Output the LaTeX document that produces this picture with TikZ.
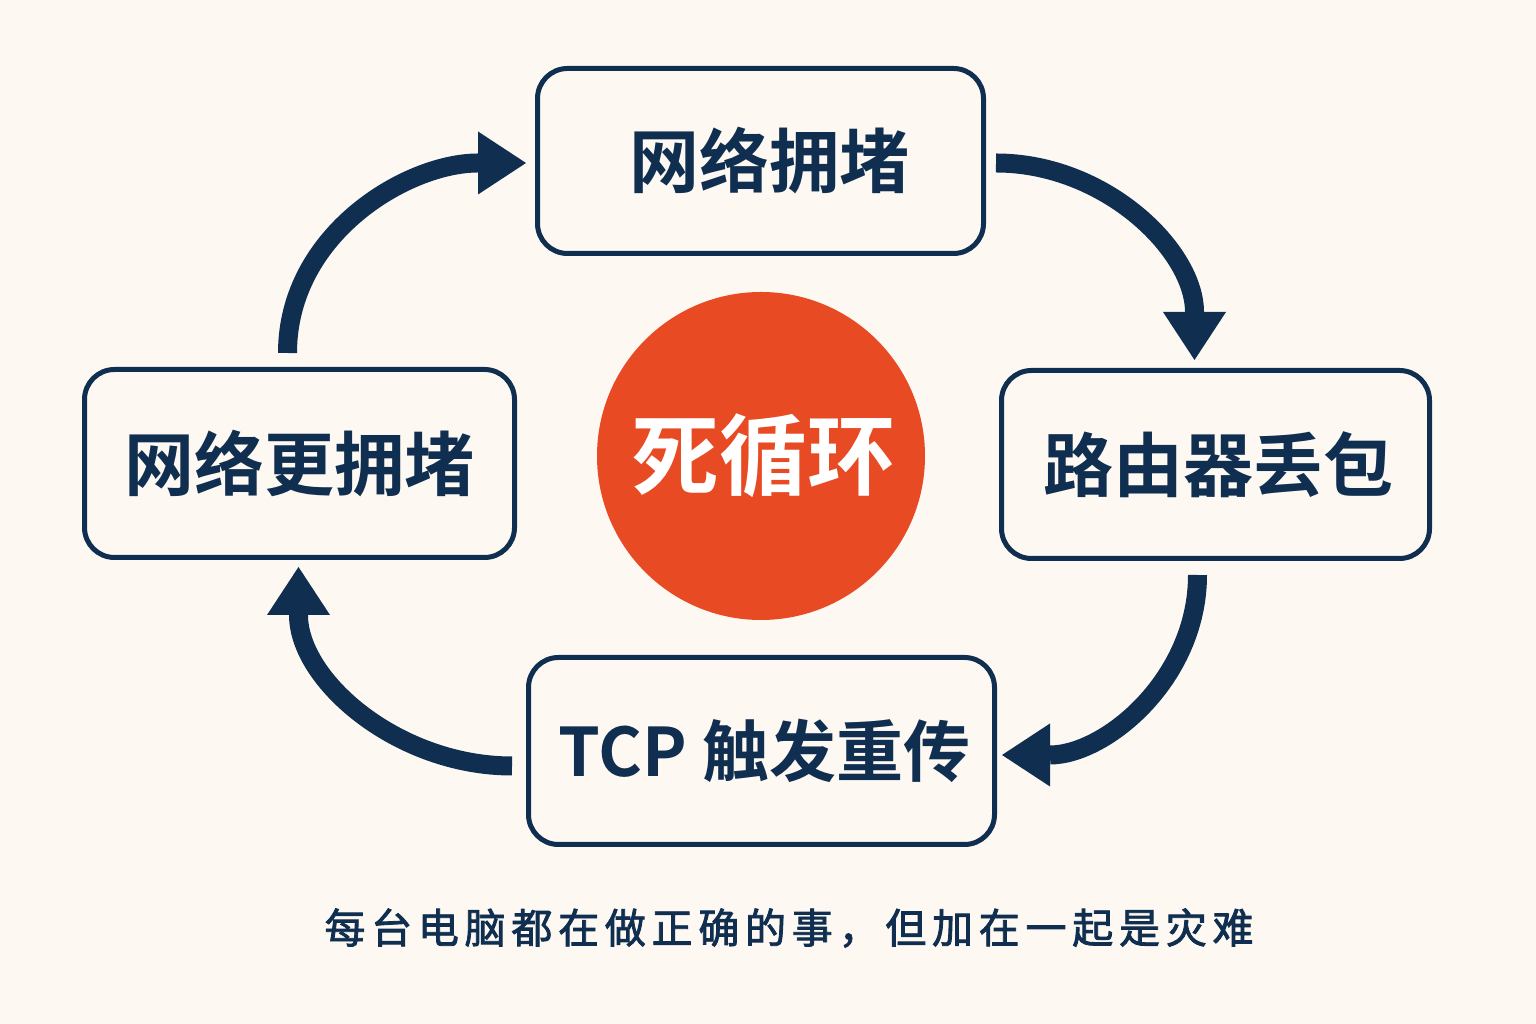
\documentclass[tikz,border=0pt]{standalone}
\usepackage{fontspec}
\usepackage{tikz}
\usetikzlibrary{arrows.meta, positioning}
\newfontfamily\cjk{Noto Sans CJK SC}[BoldFont={Noto Sans CJK SC Bold}]
\newfontfamily\cjknote{Noto Sans CJK SC}[FakeBold=2, LetterSpace=14]
\definecolor{cream}{RGB}{253,249,242}
\definecolor{navy}{RGB}{15,46,80}
\definecolor{alarm}{RGB}{232,74,36}

\begin{document}
\begin{tikzpicture}[
  x=1pt, y=1pt,
  stage/.style={rectangle, draw=navy, line width=5pt, rounded corners=30pt,
                fill=cream, text=navy, align=center, inner sep=0pt,
                font=\cjk\bfseries\fontsize{70}{84}\selectfont},
  arrow/.style={-{Triangle[width=63pt, length=48pt, line width=0pt]},
                line width=19pt, draw=navy}
]
% background fixes the page size
\fill[cream] (0,0) rectangle (1536,1024);
\node[stage, minimum width=446pt, minimum height=185pt] (cong) at (760.5,863) {\hspace*{18pt}网络拥堵};
\node[stage, minimum width=428pt, minimum height=188pt] (drop) at (1215.5,559.5) {\hspace*{6pt}路由器丢包};
\node[stage, minimum width=466pt, minimum height=187pt,
      font=\cjk\bfseries\fontsize{67}{80}\selectfont] (retx) at (761.5,273) {\hspace*{6pt}TCP 触发重传};
\node[stage, minimum width=430pt, minimum height=188pt] (worse) at (299.5,560.5) {网络更拥堵};
\node[circle, fill=alarm, minimum size=328pt, inner sep=0pt, text=white,
      font=\cjk\bfseries\fontsize{88}{100}\selectfont] (loop) at (761,568) {\hspace*{4pt}死循环};
\node[text=navy, font=\cjknote\fontsize{41}{48}\selectfont] (note) at (789,96)
  {每台电脑都在做正确的事，但加在一起是灾难};
\draw[arrow] ([xshift=10pt,yshift=-2pt]cong.east) to[out=0, in=90] ([xshift=-21pt,yshift=8pt]drop.north);
\draw[arrow] ([xshift=-18pt,yshift=-14pt]drop.south) to[out=-90, in=0] ([xshift=5pt,yshift=-4pt]retx.east);
\draw[arrow] ([xshift=-14pt,yshift=-15pt]retx.west) to[out=180, in=-90] ([xshift=-1pt,yshift=-7pt]worse.south);
\draw[arrow] ([xshift=-12pt,yshift=14pt]worse.north) to[out=90, in=180] ([xshift=-9pt,yshift=-2pt]cong.west);
\end{tikzpicture}
\end{document}
